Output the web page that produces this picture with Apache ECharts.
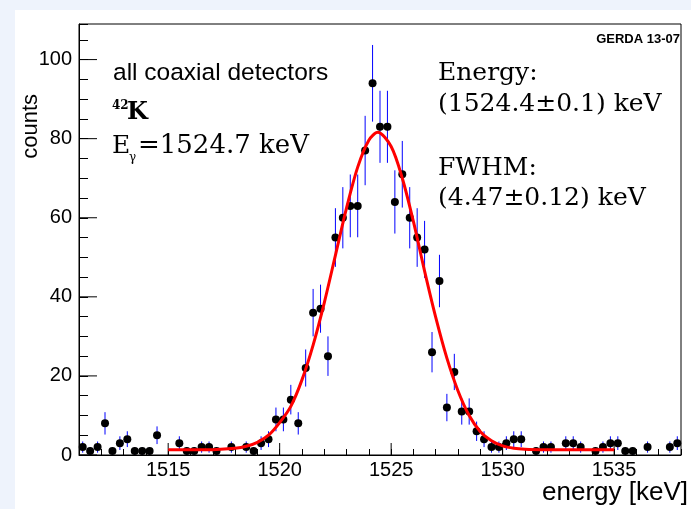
<!DOCTYPE html>
<html><head><meta charset="utf-8">
<script src="https://cdn.jsdelivr.net/npm/echarts@6/dist/echarts.min.js"></script>
<style>html,body{margin:0;padding:0;background:#eef3fc;}#c{width:691px;height:509px;}</style>
</head><body><div id="c"></div>
<script>
// histogram binning (keV)
const BIN_LOW = 1511;
const BIN_WIDTH = 1 / 3;
// counts per bin (null = empty bin, not drawn)
const COUNTS = [2,1,2,8,1,3,4,1,1,1,5,null,null,3,1,1,2,2,1,null,2,null,2,1,3,4,9,9,14,8,22,36,37,25,55,60,63,63,77,94,83,83,64,71,60,55,52,26,44,12,21,11,11,6,4,2,2,3,4,4,null,1,2,2,null,3,3,2,null,1,2,3,3,1,1,null,2,null,null,2,3];
// fit curve
const FIT_E = [1515,1516,1517,1518,1518.5,1519,1519.5,1520,1520.5,1521,1521.5,1522,1522.5,1523,1523.5,1524,1524.4,1525,1525.5,1526,1526.5,1527,1527.5,1528,1528.5,1529,1529.5,1530,1530.5,1531,1532,1533,1534,1535];
const FIT_V = [1.3,1.3,1.35,1.7,2.2,3.2,5.0,8.2,12.3,19.0,27.8,38.5,50.5,62.5,72.8,79.6,81.6,78.0,70.0,59.0,46.5,34.8,24.5,16.2,10.0,5.9,3.6,2.3,1.7,1.45,1.32,1.3,1.3,1.3];
// axes
const X_MIN = 1511, X_MAX = 1538;
const Y_MIN = 0, Y_MAX = 109;
const X_MAJOR = [1515,1520,1525,1530,1535];
const Y_MAJOR = [0,20,40,60,80,100];

const points = [];
COUNTS.forEach((c, i) => { if (c !== null) points.push([BIN_LOW + (i + 0.5) * BIN_WIDTH, c]); });
const fit = FIT_E.map((e, i) => [e, FIT_V[i]]);

const SANS = 'Liberation Sans';
const SERIF = 'DejaVu Serif';
function txt(text, x, y, font, align, extra) {
  return Object.assign({type: 'text', x: x, y: y, z: 100,
    style: {text: text, font: font, fill: '#000', align: align || 'left', verticalAlign: 'middle',
      textAlign: align || 'left', textVerticalAlign: 'middle'}}, extra || {});
}

const chart = echarts.init(document.getElementById('c'), null, {renderer: 'canvas'});
chart.setOption({
  animation: false,
  backgroundColor: '#eef3fc',
  grid: {left: 79, right: 10, top: 24, bottom: 54, show: true, borderColor: '#000', borderWidth: 1, backgroundColor: '#fff'},
  xAxis: {type: 'value', min: X_MIN, max: X_MAX, interval: 1,
    axisLine: {onZero: false, lineStyle: {color: '#000', width: 1}},
    axisTick: {inside: true, length: 6, lineStyle: {color: '#000'}},
    splitLine: {show: false},
    axisLabel: {fontFamily: SANS, fontSize: 20, color: '#000', margin: 5,
      formatter: v => (Math.abs(v % 5) < 1e-6 ? String(v) : '')}},
  yAxis: {type: 'value', min: Y_MIN, max: Y_MAX, interval: 5,
    axisLine: {show: true, lineStyle: {color: '#000', width: 1}},
    axisTick: {show: true, inside: true, length: 9, lineStyle: {color: '#000'}},
    splitLine: {show: false},
    axisLabel: {fontFamily: SANS, fontSize: 20, color: '#000', margin: 7,
      formatter: v => (Math.abs(v % 20) < 1e-6 ? String(v) : '')}},
  graphic: [
    {type: 'rect', shape: {x: 15, y: 10, width: 676, height: 499}, style: {fill: '#fff'}, z: -10, silent: true},
    txt('all coaxial detectors', 113, 73, '24.5px ' + SANS),
    txt('42', 112, 106, 'bold 12px ' + SERIF),
    txt('K', 127, 113, 'bold 24px ' + SERIF),
    txt('E', 112, 146, '25px ' + SERIF),
    txt('\u03b3', 129, 158, '12px ' + SERIF),
    txt('=1524.7 keV', 138, 146, '26px ' + SERIF),
    txt('Energy:', 438, 73, '25px ' + SERIF),
    txt('(1524.4\u00b10.1) keV', 438, 104, '25px ' + SERIF),
    txt('FWHM:', 438, 168, '25px ' + SERIF),
    txt('(4.47\u00b10.12) keV', 438, 198, '25px ' + SERIF),
    txt('GERDA 13-07', 680, 39, 'bold 13px ' + SANS, 'right'),
    txt('energy [keV]', 688, 493, '26px ' + SANS, 'right'),
    txt('counts', 31, 94, '22px ' + SANS, 'right', {rotation: Math.PI / 2})
  ],
  series: [
    {type: 'custom', name: 'xMajorTicks', silent: true, z: 5,
      data: X_MAJOR.map(v => [v, Y_MIN]),
      renderItem: (p, api) => { const a = api.coord([api.value(0), api.value(1)]);
        return {type: 'line', shape: {x1: a[0], y1: a[1], x2: a[0], y2: a[1] - 12}, style: {stroke: '#000', lineWidth: 1}}; }},
    {type: 'custom', name: 'yMajorTicks', silent: true, z: 5,
      data: Y_MAJOR.map(v => [X_MIN, v]),
      renderItem: (p, api) => { const a = api.coord([api.value(0), api.value(1)]);
        return {type: 'line', shape: {x1: a[0], y1: a[1], x2: a[0] + 18, y2: a[1]}, style: {stroke: '#000', lineWidth: 1}}; }},
    {type: 'custom', name: 'errors', silent: true, z: 6, data: points,
      renderItem: (p, api) => { const e = api.value(0), v = api.value(1), s = Math.sqrt(v);
        const a = api.coord([e, v - s]), b = api.coord([e, v + s]);
        return {type: 'line', shape: {x1: a[0], y1: a[1], x2: b[0], y2: b[1]}, style: {stroke: '#0000ff', lineWidth: 1}}; }},
    {type: 'scatter', name: 'data', data: points, symbol: 'circle', symbolSize: 8, itemStyle: {color: '#000', opacity: 1}, z: 7},
    {type: 'line', name: 'fit', data: fit, smooth: 0.3, showSymbol: false, lineStyle: {color: '#ff0000', width: 3}, z: 8}
  ]
});
</script></body></html>
